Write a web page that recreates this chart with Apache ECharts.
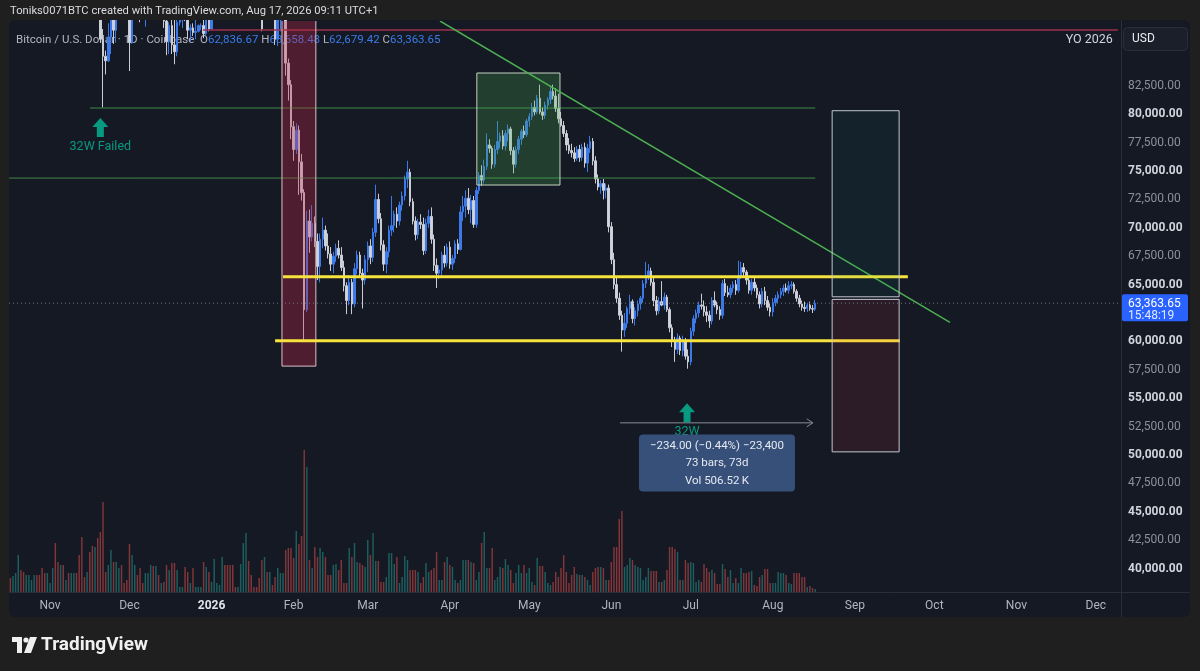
<!DOCTYPE html>
<html><head><meta charset="utf-8">
<script src="https://cdn.jsdelivr.net/npm/echarts@6/dist/echarts.min.js"></script>
<style>html,body{margin:0;padding:0;background:#1f1f1f;}#chart{width:1200px;height:671px;}</style>
</head><body><div id="chart"></div>
<script>
// ================= DATA (prices in thousand USD, daily from 2025-10-17) =================
const firstDay = [2025, 9, 17];
const axisDays = 420;
const monthNames = ['Jan','Feb','Mar','Apr','May','Jun','Jul','Aug','Sep','Oct','Nov','Dec'];

const opens = [
108.2,106.4,107.2,108.6,110.5,108.4,107.5,110.0,111.0,111.6,
114.5,114.1,112.9,110.0,108.3,109.5,110.1,110.6,106.5,101.5,
103.9,101.3,103.3,102.3,104.7,106.0,103.0,101.6,99.7,94.5,
95.6,94.2,92.2,92.9,91.5,86.6,85.1,84.7,86.8,88.3,
87.4,90.5,91.3,90.9,90.8,90.4,86.3,91.3,93.4,92.1,
89.3,89.2,90.4,90.6,92.7,92.0,92.5,90.2,90.2,88.2,
86.4,87.8,86.1,85.5,88.1,88.3,88.6,88.5,87.4,87.6,
87.2,87.3,87.8,87.8,87.1,88.4,87.5,88.7,90.0,90.6,
91.4,93.8,93.6,91.2,90.9,90.5,90.4,90.8,91.1,95.4,
97.0,95.6,95.5,95.1,93.6,92.6,89.0,89.8,89.5,89.6,
89.2,86.6,88.3,89.1,89.2,84.5,82.6,78.9,76.9,78.6,
75.8,73.1,62.8,70.6,69.2,70.4,68.8,66.6,69.0,69.8,
68.4,67.7,66.8,67.5,68.2,67.6,66.5,64.9,63.6,65.2,
63.3,66.4,67.6,66.0,65.4,67.2,68.4,67.4,69.6,72.5,
70.8,68.5,66.8,67.9,69.8,70.2,71.2,70.6,72.0,72.8,
74.3,74.9,72.3,70.6,69.4,70.5,70.3,68.0,70.4,71.0,
69.0,66.7,66.0,66.3,67.6,66.9,68.3,66.8,67.3,68.6,
68.1,71.4,71.9,72.6,71.6,72.4,70.3,73.3,74.6,74.2,
75.4,77.3,77.0,75.6,76.9,77.6,78.1,77.2,78.3,78.7,
76.8,75.6,76.9,77.8,78.5,78.2,79.4,79.8,80.6,80.2,
81.4,80.2,79.9,80.8,81.3,82.0,81.6,80.5,79.6,79.0,
78.3,77.3,76.8,76.6,76.1,76.9,76.2,77.1,75.7,77.0,
77.6,75.9,74.3,73.6,73.9,73.3,73.5,70.1,67.2,65.0,
63.8,62.3,61.0,61.6,62.9,63.5,62.0,62.7,63.3,63.8,
65.1,65.8,66.2,65.2,63.6,62.7,63.5,63.2,63.9,62.8,
61.2,60.1,59.3,60.3,59.2,60.0,58.7,58.2,60.9,62.0,
62.5,63.2,63.1,62.6,62.3,61.8,63.6,63.2,62.8,62.3,
65.1,64.3,64.1,64.7,65.0,64.5,65.8,66.5,66.1,65.4,
64.5,65.2,64.7,64.1,63.3,64.4,63.6,63.0,62.6,63.4,
63.8,64.1,64.4,64.7,64.5,64.9,65.0,64.4,63.8,63.3,
63.0,62.9,63.2,62.9,62.83667];

const highs = [
109.2,107.5,109.4,111.7,114.0,109.1,111.0,112.0,111.9,115.0,
116.1,116.0,113.6,111.6,111.0,110.4,111.2,110.7,106.6,104.5,
104.0,104.0,103.4,105.0,106.6,107.4,105.3,104.0,99.8,96.8,
96.6,96.0,93.8,92.9,93.1,87.5,85.6,88.0,89.2,88.5,
90.6,91.9,93.0,91.2,92.0,90.4,92.0,94.1,94.0,92.7,
90.3,91.7,92.3,94.6,94.4,93.5,92.8,90.6,90.4,90.0,
88.1,90.3,89.4,89.0,88.5,89.0,90.5,88.9,87.9,88.0,
89.4,87.9,88.0,90.3,89.0,89.0,88.9,90.9,90.7,91.8,
94.7,94.0,93.7,91.5,91.9,90.8,91.3,92.3,96.0,97.9,
97.2,95.8,95.6,95.5,93.8,92.7,90.4,90.5,91.2,89.8,
89.4,88.9,89.4,90.6,89.4,84.9,83.0,79.4,79.2,79.0,
76.5,73.4,71.5,71.6,72.0,71.0,69.5,69.5,70.9,70.2,
69.5,68.3,67.9,68.6,68.9,68.3,67.1,65.2,65.8,65.5,
66.9,68.0,67.9,66.4,67.6,68.8,69.0,70.0,73.8,73.0,
71.3,68.9,68.3,70.2,72.8,71.5,71.8,72.3,73.2,74.6,
75.9,75.2,72.6,71.0,70.8,71.2,70.9,70.8,71.6,71.8,
69.4,67.3,66.7,67.9,68.4,68.6,68.8,67.6,68.9,69.0,
71.9,72.8,73.3,73.5,72.9,72.8,73.6,74.9,75.5,76.0,
78.3,77.8,77.2,77.3,79.4,78.4,78.6,78.6,79.1,78.9,
77.1,77.2,78.1,78.7,79.0,79.6,80.1,81.0,81.2,81.7,
82.6,80.6,81.1,81.5,82.4,82.6,82.3,81.8,80.2,79.4,
78.6,77.9,77.4,77.1,77.2,77.3,77.4,77.5,77.4,78.1,
77.9,76.3,74.7,74.2,74.3,73.9,73.8,70.5,67.8,65.6,
64.3,62.7,62.5,63.1,64.1,63.7,63.0,63.6,64.0,65.4,
67.0,66.8,66.5,65.6,64.0,63.9,65.3,64.3,64.1,63.0,
61.5,60.4,60.7,60.5,60.5,60.3,59.3,61.2,62.3,62.8,
63.5,64.2,63.6,63.1,62.7,63.9,64.4,63.5,63.1,65.4,
65.5,64.9,65.0,65.3,65.4,67.1,67.0,66.9,66.3,65.7,
65.5,65.6,65.0,64.4,64.7,64.8,64.0,63.4,63.8,64.1,
64.4,64.7,65.0,65.1,65.3,65.3,65.2,64.6,64.1,63.6,
63.5,63.4,63.5,63.2,63.65848];

const lows = [
103.5,106.3,106.1,107.4,107.5,106.8,107.2,109.7,110.8,111.3,
113.8,112.2,109.7,106.3,108.2,109.4,109.6,105.3,98.9,100.8,
100.3,99.3,101.4,101.4,104.4,102.5,100.8,98.0,94.0,94.3,
93.0,91.3,89.3,88.6,86.3,80.6,83.5,84.6,85.3,86.2,
86.3,90.1,90.2,90.3,90.3,83.8,86.2,91.1,90.9,88.1,
88.9,87.7,89.6,89.6,91.6,89.3,89.5,89.8,87.6,85.2,
85.3,85.3,84.4,85.1,87.8,87.6,88.2,86.6,86.4,86.9,
86.6,87.2,87.4,86.7,86.9,87.3,87.4,88.3,89.4,90.5,
91.3,91.3,90.7,89.3,89.8,90.2,90.2,90.0,90.9,94.6,
94.9,94.3,94.9,92.5,91.9,87.3,88.3,88.5,88.4,88.4,
86.1,86.0,87.3,88.7,83.4,81.2,77.8,75.9,76.5,72.9,
72.4,60.0,62.6,67.8,68.8,68.3,65.4,65.2,68.2,68.0,
67.3,66.2,66.0,67.0,67.3,66.2,64.4,62.4,63.2,62.4,
63.0,65.9,65.6,62.9,65.0,66.1,66.8,67.0,69.2,70.4,
68.0,66.2,66.0,67.4,69.3,69.6,70.0,70.2,71.5,72.4,
73.5,71.9,70.3,68.9,69.0,69.9,67.6,67.7,70.0,68.6,
66.2,64.7,65.5,65.8,66.5,66.6,66.4,66.3,66.9,67.7,
68.0,70.6,70.9,71.2,70.4,70.0,70.0,73.0,73.7,73.9,
75.1,76.6,75.2,75.3,76.5,77.0,76.9,76.8,77.6,76.4,
74.8,75.3,76.5,77.3,77.9,78.0,78.9,79.5,79.9,80.0,
80.0,79.5,79.6,80.4,80.9,81.3,80.2,79.2,78.9,78.0,
76.8,76.5,76.2,75.8,75.9,75.8,75.9,75.3,74.9,76.6,
75.5,73.9,73.3,73.0,72.5,72.6,69.6,66.8,64.6,63.4,
61.9,59.1,60.4,61.2,62.4,61.6,61.4,62.2,62.8,63.4,
64.7,65.4,64.9,63.1,62.3,62.4,63.1,62.8,62.6,60.8,
59.5,58.2,58.9,58.8,58.7,58.4,57.6,57.9,60.5,61.6,
62.1,62.8,62.2,61.7,61.2,61.5,63.0,62.4,61.9,62.0,
64.0,63.9,63.8,64.3,64.1,64.3,65.5,65.7,65.0,64.2,
64.1,64.4,63.8,62.9,63.0,63.2,62.7,62.2,62.2,63.1,
63.4,63.8,64.0,64.3,64.2,64.6,64.2,63.5,63.0,62.7,
62.6,62.6,62.7,62.5,62.67942];

const closes = [
106.4,107.2,108.6,110.5,108.4,107.5,110.0,111.0,111.6,114.5,
114.1,112.9,110.0,108.3,109.5,110.1,110.6,106.5,101.5,103.9,
101.3,103.3,102.3,104.7,106.0,103.0,101.6,99.7,94.5,95.6,
94.2,92.2,92.9,91.5,86.6,85.1,84.7,86.8,88.3,87.4,
90.5,91.3,90.9,90.8,90.4,86.3,91.3,93.4,92.1,89.3,
89.2,90.4,90.6,92.7,92.0,92.5,90.2,90.2,88.2,86.4,
87.8,86.1,85.5,88.1,88.3,88.6,88.5,87.4,87.6,87.2,
87.3,87.8,87.8,87.1,88.4,87.5,88.7,90.0,90.6,91.4,
93.8,93.6,91.2,90.9,90.5,90.4,90.8,91.1,95.4,97.0,
95.6,95.5,95.1,93.6,92.6,87.5,89.8,89.5,89.6,89.2,
86.6,88.3,89.1,89.2,84.5,82.6,78.9,76.9,78.6,75.8,
73.1,62.8,70.6,69.2,70.4,68.8,66.6,69.0,69.8,68.4,
67.7,66.8,67.5,68.2,67.6,66.5,64.9,63.6,65.2,63.3,
66.4,67.6,66.0,65.4,67.2,68.4,67.4,69.6,72.5,70.8,
68.5,66.8,67.9,69.8,70.2,71.2,70.6,72.0,72.8,74.3,
74.9,72.3,70.6,69.4,70.5,70.3,68.0,70.4,71.0,69.0,
66.7,66.0,66.3,67.6,66.9,68.3,66.8,67.3,68.6,68.1,
71.4,71.9,72.6,71.6,72.4,70.3,73.3,74.6,74.2,75.4,
77.3,77.0,75.6,76.9,77.6,78.1,77.2,78.3,78.7,76.8,
75.6,76.9,77.8,78.5,78.2,79.4,79.8,80.6,80.2,81.4,
80.2,79.9,80.8,81.3,82.0,81.6,80.5,79.6,79.0,78.3,
77.3,76.8,76.6,76.1,76.9,76.2,77.1,75.7,77.0,77.6,
75.9,74.3,73.6,73.9,73.3,73.5,70.1,67.2,65.0,63.8,
62.3,61.0,61.6,62.9,63.5,62.0,62.7,63.3,63.8,65.1,
65.8,66.2,65.2,63.6,62.7,63.5,63.2,63.9,62.8,61.2,
60.1,59.3,60.3,59.2,60.0,58.7,58.2,60.9,62.0,62.5,
63.2,63.1,62.6,62.3,61.8,63.6,63.2,62.8,62.3,65.1,
64.3,64.1,64.7,65.0,64.5,65.8,66.5,66.1,65.4,64.5,
65.2,64.7,64.1,63.3,64.4,63.6,63.0,62.6,63.4,63.8,
64.1,64.4,64.7,64.5,64.9,65.0,64.4,63.8,63.3,63.0,
62.9,63.2,62.9,62.84,63.36365];

const volumes = [
14,16,19,37,22,20,17,17,12,17,
17,17,24,19,19,9,24,49,30,27,
27,12,19,19,19,19,37,55,15,20,
40,46,45,54,60,90,20,27,42,30,
30,24,27,9,12,48,37,27,17,24,
9,19,19,27,26,26,17,9,10,27,
22,29,29,22,5,5,25,20,9,24,
5,5,5,30,25,20,10,33,9,7,
35,27,27,27,27,5,5,28,49,59,
31,17,5,5,14,32,35,20,20,7,
15,24,19,19,42,44,44,34,61,48,
56,142,125,32,24,45,35,44,40,35,
17,17,27,28,22,32,9,9,44,35,
49,30,29,27,25,52,37,59,31,31,
10,10,15,39,39,28,35,9,15,36,
32,22,22,22,20,9,15,29,20,22,
24,40,12,12,30,35,27,25,12,9,
12,32,32,32,30,29,12,20,49,60,
24,24,44,12,15,25,24,33,27,22,
9,19,27,19,27,19,24,10,7,34,
26,26,20,9,7,10,20,15,24,37,
20,9,17,25,18,17,17,15,12,7,
20,24,25,25,24,12,12,30,45,45,
73,81,25,27,34,32,27,25,24,12,
15,24,21,21,21,10,10,12,22,45,
45,43,40,12,12,32,29,30,29,10,
12,10,28,24,20,22,19,8,8,28,
23,15,22,9,14,9,24,19,19,20,
21,7,6,15,17,23,23,9,9,9,
20,19,19,17,9,8,19,19,19,15,
15,5,6,4,3];

// Drawing anchors: [day index (may be fractional), price]
const yearlyOpenLine = { from: 72.8, to: 418.3, price: 87415 };
const level32W      = { from: 30.1, to: 304, price: 80546 };
const levelMid      = { from: -0.5, to: 304, price: 74381 };
const rangeHigh     = { from: 103, to: 339, price: 65690 };
const rangeLow      = { from: 100, to: 336, price: 60050 };
const crashZone     = { from: 102.6, to: 115.4, top: 92000, bottom: 57825 };
const rallyZone     = { from: 176.2, to: 207.6, top: 83628, bottom: 73767 };
const trendLine     = { x1: 162.3, p1: 88207, x2: 354.9, p2: 61673 };
const targetBox     = { from: 310.4, to: 335.7, top: 80309, bottom: 63928 };
const stopBox       = { from: 310.4, to: 335.7, top: 63699, bottom: 50278 };
const failArrow     = { x: 34, price: 79665, label: '32W Failed' };
const bounceArrow   = { x: 255.6, price: 54566, label: '32W' };
const measureLine   = { from: 230.3, to: 303.1, price: 52831 };
const measureBox    = { x: 266.9, price: 51806, lines: ['\u2212234.00 (\u22120.44%) \u221223,400', '73 bars, 73d', 'Vol 506.52\u2009K'] };
const lastPriceTime = '15:48:19';

// ================= BUILD =================
const categories = [];
const t0 = Date.UTC(firstDay[0], firstDay[1], firstDay[2]);
for (let i = 0; i < axisDays; i++) categories.push(new Date(t0 + i * 86400000).toISOString().slice(0, 10));

const K = 1000;
const candleData = opens.map((o, i) => [o * K, closes[i] * K, lows[i] * K, highs[i] * K]);
const UPV = 'rgba(38,166,154,0.5)', DNV = 'rgba(239,83,80,0.5)';
const volData = volumes.map((v, i) => ({ value: v, itemStyle: { color: closes[i] >= opens[i] ? UPV : DNV } }));
const last = opens.length - 1;
const lastClose = closes[last] * K;
const fmt = v => v.toLocaleString('en-US', { minimumFractionDigits: 2, maximumFractionDigits: 2 });

const drawingIds = ['yo','l32','lmid','crash','rally','trend','rhigh','rlow','target','stop','lastline','arrow1','arrow2','measure'];
const FONT = 'Roboto, "Noto Sans", sans-serif';

function P(api, xi, p) {
  const i = Math.floor(xi), f = xi - i;
  const c = api.coord([i, p]);
  const bw = api.size([1, 0])[0];
  return [c[0] + f * bw, c[1]];
}
function hline(api, d, stroke, w) {
  const a = P(api, d.from, d.price), b = P(api, d.to, d.price);
  return { type: 'line', shape: { x1: a[0], y1: a[1], x2: b[0], y2: b[1] }, style: { stroke: stroke, lineWidth: w } };
}
function box(api, d, fill, stroke) {
  const a = P(api, d.from, d.top), b = P(api, d.to, d.bottom);
  return { type: 'rect', shape: { x: a[0], y: a[1], width: b[0] - a[0], height: b[1] - a[1] }, style: { fill: fill, stroke: stroke, lineWidth: 1 } };
}
function arrow(api, d) {
  const t = P(api, d.x, d.price);
  const cx = t[0], ty = t[1];
  return { type: 'group', children: [
    { type: 'polygon', shape: { points: [[cx, ty], [cx + 8, ty + 9], [cx + 3.5, ty + 9], [cx + 3.5, ty + 19], [cx - 3.5, ty + 19], [cx - 3.5, ty + 9], [cx - 8, ty + 9]] }, style: { fill: '#089981' } },
    { type: 'text', x: cx, y: ty + 29, style: { text: d.label, fill: '#089981', font: '12.5px ' + FONT, align: 'center', verticalAlign: 'middle' } }
  ]};
}

function renderDrawing(params, api) {
  const id = drawingIds[params.dataIndex];
  const cs = params.coordSys;
  switch (id) {
    case 'yo': return hline(api, yearlyOpenLine, '#9e2f4a', 1.5);
    case 'l32': return hline(api, level32W, 'rgba(76,175,80,0.75)', 1);
    case 'lmid': return hline(api, levelMid, 'rgba(76,175,80,0.75)', 1);
    case 'crash': return box(api, crashZone, 'rgba(200,40,70,0.32)', '#dcc0c8');
    case 'rally': return box(api, rallyZone, 'rgba(76,175,80,0.25)', '#c5d3c3');
    case 'trend': {
      const a = P(api, trendLine.x1, trendLine.p1), b = P(api, trendLine.x2, trendLine.p2);
      return { type: 'line', shape: { x1: a[0], y1: a[1], x2: b[0], y2: b[1] }, style: { stroke: '#4caf50', lineWidth: 1.5 } };
    }
    case 'rhigh': return hline(api, rangeHigh, '#f7e33d', 3);
    case 'rlow': return hline(api, rangeLow, '#f7e33d', 3);
    case 'target': return box(api, targetBox, 'rgba(8,153,129,0.08)', '#c2c5cc');
    case 'stop': return box(api, stopBox, 'rgba(242,54,69,0.10)', '#c2c5cc');
    case 'lastline': {
      const y = api.coord([0, lastClose])[1];
      return { type: 'line', shape: { x1: cs.x, y1: y, x2: cs.x + cs.width, y2: y }, style: { stroke: '#6f7380', lineWidth: 1, lineDash: [1, 3] } };
    }
    case 'arrow1': return arrow(api, failArrow);
    case 'arrow2': return arrow(api, bounceArrow);
    case 'measure': {
      const a = P(api, measureLine.from, measureLine.price), b = P(api, measureLine.to, measureLine.price);
      return { type: 'group', children: [
        { type: 'line', shape: { x1: a[0], y1: a[1], x2: b[0], y2: b[1] }, style: { stroke: '#8a8d96', lineWidth: 1 } },
        { type: 'polyline', shape: { points: [[b[0] - 6, b[1] - 4], [b[0], b[1]], [b[0] - 6, b[1] + 4]] }, style: { stroke: '#8a8d96', lineWidth: 1, fill: null } }
      ]};
    }
  }
  return null;
}

function renderLabels(params, api) {
  const cs = params.coordSys;
  const kids = [];
  const m = P(api, measureBox.x, measureBox.price);
  kids.push({ type: 'rect', shape: { x: m[0] - 78, y: m[1], width: 156, height: 57, r: 4 }, style: { fill: '#36507a' } });
  measureBox.lines.forEach((s, k) => kids.push({ type: 'text', x: m[0], y: m[1] + 11.5 + k * 17.5, style: { text: s, fill: '#e6e9f0', font: '11.5px ' + FONT, align: 'center', verticalAlign: 'middle' } }));
  const yo = P(api, yearlyOpenLine.to, yearlyOpenLine.price);
  kids.push({ type: 'text', x: yo[0] - 5, y: yo[1] + 10, style: { text: 'YO 2026', fill: '#d1d4dc', font: '12.5px ' + FONT, align: 'right', verticalAlign: 'middle' } });
  const py = api.coord([0, lastClose])[1];
  const tx = cs.x + cs.width + 1;
  kids.push({ type: 'rect', shape: { x: tx, y: py - 9, width: 66, height: 27, r: 2 }, style: { fill: '#2962ff' } });
  kids.push({ type: 'text', x: tx + 6, y: py + 0.5, style: { text: fmt(lastClose), fill: '#ffffff', font: '12px ' + FONT, verticalAlign: 'middle' } });
  kids.push({ type: 'text', x: tx + 6, y: py + 12.5, style: { text: lastPriceTime, fill: '#e3e8ff', font: '12px ' + FONT, verticalAlign: 'middle' } });
  return { type: 'group', children: kids };
}

const legendText = '{g|Bitcoin / U.S. Dollar \u00b7 1D \u00b7 Coinbase}  {g|O}{v|' + fmt(opens[last] * K) + '} {g|H}{v|' + fmt(highs[last] * K) +
  '} {g|L}{v|' + fmt(lows[last] * K) + '} {g|C}{v|' + fmt(closes[last] * K) + '}';

const option = {
  backgroundColor: '#1f1f1f',
  animation: false,
  grid: [
    { left: 9, right: 79, top: 21, bottom: 74, outerBoundsMode: 'none', containLabel: false },
    { left: 9, right: 79, top: 442, bottom: 79, outerBoundsMode: 'none', containLabel: false }
  ],
  xAxis: [
    { type: 'category', gridIndex: 0, data: categories, boundaryGap: true, show: false },
    { type: 'category', gridIndex: 1, data: categories, boundaryGap: true,
      axisLine: { show: false }, axisTick: { show: false }, splitLine: { show: false },
      axisLabel: {
        show: true, margin: 8, color: '#b2b5be', fontSize: 12, fontFamily: FONT,
        interval: (idx, val) => val.slice(8) === '01',
        formatter: val => { const mth = +val.slice(5, 7); return mth === 1 ? '{y|' + val.slice(0, 4) + '}' : monthNames[mth - 1]; },
        rich: { y: { color: '#e1e3ea', fontWeight: 'bold', fontSize: 12, fontFamily: FONT } }
      } }
  ],
  yAxis: [
    { type: 'value', gridIndex: 0, position: 'right', min: 37500, max: 88207, interval: 2500,
      axisLine: { show: false }, axisTick: { show: false }, splitLine: { show: false },
      axisLabel: {
        margin: 7, fontSize: 12, fontFamily: FONT,
        formatter: v => (v < 40000 || v > 82500) ? '' : (v % 5000 === 0 ? '{b|' + fmt(v) + '}' : '{n|' + fmt(v) + '}'),
        rich: { b: { color: '#d1d4dc', fontWeight: 'bold', fontSize: 12, fontFamily: FONT }, n: { color: '#8c909b', fontSize: 12, fontFamily: FONT } }
      } },
    { type: 'value', gridIndex: 1, min: 0, max: 150, show: false, splitLine: { show: false } }
  ],
  series: [
    { type: 'bar', name: 'Volume', xAxisIndex: 1, yAxisIndex: 1, data: volData, barWidth: '55%', z: 1, silent: true },
    { type: 'candlestick', name: 'BTCUSD', xAxisIndex: 0, yAxisIndex: 0, data: candleData, barWidth: '75%', z: 3, clip: true,
      itemStyle: { color: '#3b7ae8', color0: '#d1d4dc', borderColor: '#3b7ae8', borderColor0: '#c9ccd4', borderWidth: 1 } },
    { type: 'custom', name: 'drawings', xAxisIndex: 0, yAxisIndex: 0, clip: true, z: 5, silent: true,
      data: drawingIds.map(() => [0, 60000]), renderItem: renderDrawing },
    { type: 'custom', name: 'labels', xAxisIndex: 0, yAxisIndex: 0, clip: false, z: 8, silent: true,
      data: [[0, 60000]], renderItem: renderLabels }
  ],
  graphic: [
    { type: 'rect', z: -10, shape: { x: 9, y: 20, width: 1181, height: 597, r: 6 }, style: { fill: '#151924' } },
    { type: 'rect', z: 40, shape: { x: 0, y: 0, width: 1200, height: 20 }, style: { fill: '#1f1f1f' } },
    { type: 'text', z: 50, x: 10, y: 11, style: { text: 'Toniks0071BTC created with TradingView.com, Aug 17, 2026 09:11 UTC+1', fill: '#dadce2', font: '11.2px ' + FONT, verticalAlign: 'middle' } },
    { type: 'text', z: 1, x: 16, y: 40, style: { text: legendText, font: '11.5px ' + FONT, verticalAlign: 'middle',
      rich: { g: { fill: '#b2b5be', font: '11.5px ' + FONT }, v: { fill: '#3a7be8', font: '11.5px ' + FONT } } } },
    { type: 'line', z: 50, shape: { x1: 1121.5, y1: 20, x2: 1121.5, y2: 617 }, style: { stroke: '#2a2e39', lineWidth: 1 } },
    { type: 'line', z: 50, shape: { x1: 9, y1: 592.5, x2: 1190, y2: 592.5 }, style: { stroke: '#2a2e39', lineWidth: 1 } },
    { type: 'rect', z: 50, shape: { x: 1123.5, y: 27.5, width: 64, height: 23, r: 4 }, style: { fill: '#1b1f2a', stroke: '#2a2e39', lineWidth: 1 } },
    { type: 'text', z: 51, x: 1132, y: 39, style: { text: 'USD', fill: '#e8eaef', font: '12px ' + FONT, verticalAlign: 'middle' } },
    { type: 'rect', z: 50, shape: { x: 12, y: 637, width: 10, height: 5 }, style: { fill: '#f0f0f0' } },
    { type: 'rect', z: 50, shape: { x: 17, y: 637, width: 5, height: 16 }, style: { fill: '#f0f0f0' } },
    { type: 'circle', z: 50, shape: { cx: 26, cy: 640, r: 2.6 }, style: { fill: '#f0f0f0' } },
    { type: 'polygon', z: 50, shape: { points: [[30, 637], [37, 637], [31, 653], [24, 653]] }, style: { fill: '#f0f0f0' } },
    { type: 'text', z: 50, x: 41, y: 645, style: { text: 'TradingView', fill: '#f0f0f0', font: 'bold 19px ' + FONT, verticalAlign: 'middle' } }
  ]
};

const chart = echarts.init(document.getElementById('chart'), null, { renderer: 'canvas', width: 1200, height: 671 });
chart.setOption(option);
</script>
</body></html>
